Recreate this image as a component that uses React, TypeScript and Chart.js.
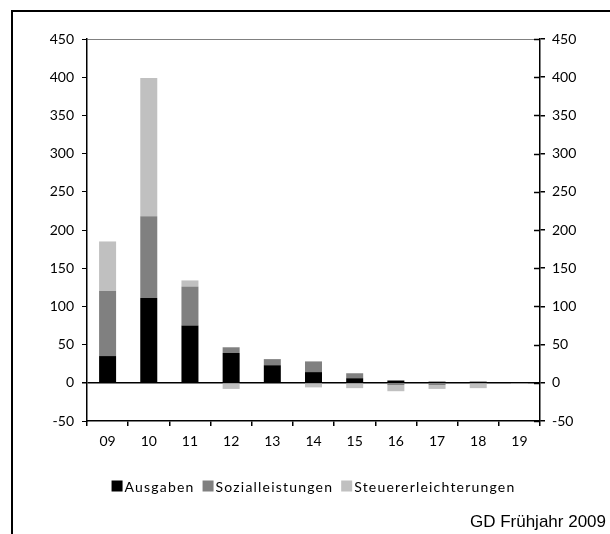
import React, { useEffect, useRef } from "react";
import { Chart, registerables } from "chart.js";

Chart.register(...registerables);

const CATEGORIES = ["09", "10", "11", "12", "13", "14", "15", "16", "17", "18", "19"];
const AUSGABEN = [35, 111, 75, 39, 23, 14, 6, 3, 1.5, 1.5, 0];
const SOZIALLEISTUNGEN = [85, 107, 51, 7.5, 8, 14, 6.5, -3, -3, 0, 0];
const STEUERERLEICHTERUNGEN = [65, 181, 8, -8, -1, -6, -7, -8, -5, -7, -1.5];
const Y_MIN = -50;
const Y_MAX = 450;
const Y_STEP = 50;
const SOURCE = "GD Frühjahr 2009";

const TICK_FONT = { family: "Lato, 'Open Sans', sans-serif", size: 14 };

const decorPlugin = {
  id: "decor",
  afterDraw(chart: any) {
    const ctx = chart.ctx as CanvasRenderingContext2D;
    const area = chart.chartArea;
    ctx.save();
    // frame
    ctx.fillStyle = "#000";
    ctx.fillRect(11, 10, 2, 530);
    ctx.fillRect(11, 10, 610, 2);
    // inner part of right axis ticks (crossing ticks)
    const y2 = chart.scales.y2;
    ctx.strokeStyle = "#000";
    ctx.lineWidth = 1.5;
    y2.ticks.forEach((t: any) => {
      const py = Math.round(y2.getPixelForValue(t.value)) + 0.5;
      ctx.beginPath();
      ctx.moveTo(area.right - 6, py);
      ctx.lineTo(area.right, py);
      ctx.stroke();
    });
    // legend
    const items = chart.data.datasets.map((d: any) => ({ label: d.label, color: d.backgroundColor }));
    ctx.font = "14px Lato, 'Open Sans', sans-serif";
    (ctx as any).letterSpacing = "1.2px";
    const box = 11;
    const gapBox = 2;
    const gapItem = 8;
    const widths = items.map((it: any) => box + gapBox + ctx.measureText(it.label).width);
    const total = widths.reduce((a: number, b: number) => a + b, 0) + gapItem * (items.length - 1);
    let x = (area.left + area.right) / 2 - total / 2;
    const ly = 486;
    ctx.textBaseline = "middle";
    ctx.textAlign = "left";
    items.forEach((it: any, i: number) => {
      ctx.fillStyle = it.color;
      ctx.fillRect(x, ly - box / 2, box, box);
      ctx.fillStyle = "#000";
      ctx.fillText(it.label, x + box + gapBox, ly + 1);
      x += widths[i] + gapItem;
    });
    (ctx as any).letterSpacing = "0px";
    // source
    ctx.font = "17px 'Liberation Sans', Arial, sans-serif";
    ctx.textAlign = "right";
    ctx.textBaseline = "alphabetic";
    ctx.fillStyle = "#000";
    ctx.fillText(SOURCE, 606, 527);
    ctx.restore();
  },
};

export default function App() {
  const ref = useRef<HTMLCanvasElement>(null);
  useEffect(() => {
    document.body.style.margin = "0";
    const canvas = ref.current;
    if (!canvas) return;
    const chart = new Chart(canvas, {
      type: "bar",
      data: {
        labels: CATEGORIES,
        datasets: [
          { label: "Ausgaben", data: AUSGABEN, backgroundColor: "#000000", stack: "s" },
          { label: "Sozialleistungen", data: SOZIALLEISTUNGEN, backgroundColor: "#808080", stack: "s" },
          { label: "Steuererleichterungen", data: STEUERERLEICHTERUNGEN, backgroundColor: "#c0c0c0", stack: "s" },
        ],
      },
      options: {
        responsive: false,
        animation: false,
        devicePixelRatio: 1,
        layout: { padding: { top: 39, left: 0, right: 0, bottom: 0 } },
        datasets: { bar: { barPercentage: 0.413, categoryPercentage: 1 } },
        plugins: { legend: { display: false }, tooltip: { enabled: false } },
        scales: {
          x: {
            stacked: true,
            offset: true,
            grid: { offset: true, drawOnChartArea: false, tickLength: 5, color: "#000", lineWidth: 1.5 },
            border: { color: "#000", width: 1.5 },
            ticks: { font: TICK_FONT, color: "#000", padding: 7 },
            afterFit: (s: any) => { s.height = 113; },
          },
          y: {
            stacked: true,
            min: Y_MIN,
            max: Y_MAX,
            ticks: { stepSize: Y_STEP, font: TICK_FONT, color: "#000", padding: 8 },
            grid: {
              drawOnChartArea: true,
              tickLength: 5,
              tickColor: "#000",
              lineWidth: (c: any) => (c.tick && c.tick.value === 0 ? 1.5 : 1),
              color: (c: any) =>
                c.tick && c.tick.value === 0 ? "#000" : c.tick && c.tick.value === Y_MAX ? "#808080" : "rgba(0,0,0,0)",
            },
            border: { color: "#000", width: 1.5 },
            afterFit: (s: any) => { s.width = 87; },
          },
          y2: {
            position: "right",
            min: Y_MIN,
            max: Y_MAX,
            ticks: { stepSize: Y_STEP, font: TICK_FONT, color: "#000", padding: 7 },
            grid: { drawOnChartArea: false, tickLength: 5, color: "#000", lineWidth: 1.5 },
            border: { color: "#000", width: 1.5 },
            afterFit: (s: any) => { s.width = 70; },
          },
        },
      },
      plugins: [decorPlugin],
    } as any);
    return () => chart.destroy();
  }, []);
  return (
    <div style={{ position: "absolute", left: 0, top: 0, width: 610, height: 534, background: "#fff" }}>
      <canvas ref={ref} width={610} height={534} style={{ display: "block" }} />
    </div>
  );
}
